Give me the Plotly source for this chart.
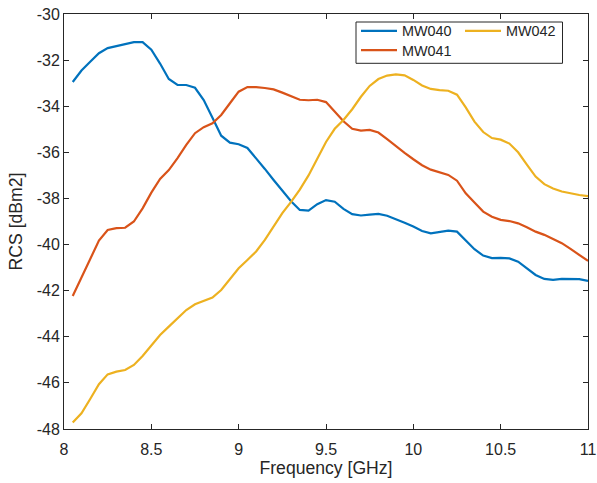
import plotly.graph_objects as go

freq_ghz = [8.05, 8.10, 8.15, 8.20, 8.25, 8.30, 8.35, 8.40, 8.45, 8.50,
            8.55, 8.60, 8.65, 8.70, 8.75, 8.80, 8.85, 8.90, 8.95, 9.00,
            9.05, 9.10, 9.15, 9.20, 9.25, 9.30, 9.35, 9.40, 9.45, 9.50,
            9.55, 9.60, 9.65, 9.70, 9.75, 9.80, 9.85, 9.90, 9.95, 10.00,
            10.05, 10.10, 10.15, 10.20, 10.25, 10.30, 10.35, 10.40, 10.45, 10.50,
            10.55, 10.60, 10.65, 10.70, 10.75, 10.80, 10.85, 10.90, 10.95, 11.00]

mw040 = [-32.95, -32.45, -32.07, -31.70, -31.48, -31.40, -31.32, -31.22, -31.22, -31.55,
         -32.15, -32.82, -33.08, -33.08, -33.20, -33.73, -34.50, -35.28, -35.58, -35.65,
         -35.81, -36.25, -36.72, -37.20, -37.67, -38.12, -38.50, -38.53, -38.25, -38.07,
         -38.14, -38.45, -38.68, -38.74, -38.70, -38.67, -38.75, -38.89, -39.05, -39.22,
         -39.41, -39.51, -39.46, -39.40, -39.44, -39.80, -40.20, -40.48, -40.59, -40.58,
         -40.60, -40.74, -41.03, -41.32, -41.49, -41.53, -41.49, -41.48, -41.50, -41.58]

mw041 = [-42.23, -41.42, -40.61, -39.83, -39.37, -39.29, -39.27, -39.00, -38.43, -37.75,
         -37.15, -36.77, -36.25, -35.68, -35.17, -34.91, -34.74, -34.38, -33.87, -33.37,
         -33.17, -33.17, -33.21, -33.27, -33.41, -33.55, -33.72, -33.74, -33.72, -33.82,
         -34.22, -34.65, -34.98, -35.06, -35.03, -35.14, -35.43, -35.74, -36.02, -36.30,
         -36.56, -36.75, -36.86, -36.98, -37.23, -37.78, -38.18, -38.57, -38.79, -38.93,
         -38.98, -39.08, -39.25, -39.44, -39.58, -39.76, -39.94, -40.19, -40.45, -40.71]

mw042 = [-47.72, -47.32, -46.70, -46.06, -45.63, -45.51, -45.44, -45.22, -44.83, -44.35,
         -43.92, -43.56, -43.20, -42.84, -42.59, -42.45, -42.30, -41.97, -41.50, -41.03,
         -40.67, -40.30, -39.80, -39.22, -38.64, -38.15, -37.62, -37.00, -36.30, -35.55,
         -34.98, -34.60, -34.13, -33.59, -33.12, -32.82, -32.67, -32.62, -32.66, -32.86,
         -33.10, -33.25, -33.30, -33.33, -33.50, -34.05, -34.67, -35.12, -35.38, -35.45,
         -35.62, -36.00, -36.53, -37.05, -37.38, -37.57, -37.70, -37.78, -37.85, -37.90]

series_names = ["MW040", "MW041", "MW042"]
x_tick_vals = [8, 8.5, 9, 9.5, 10, 10.5, 11]
x_tick_text = ["8", "8.5", "9", "9.5", "10", "10.5", "11"]
y_tick_vals = [-48, -46, -44, -42, -40, -38, -36, -34, -32, -30]
y_tick_text = ["-48", "-46", "-44", "-42", "-40", "-38", "-36", "-34", "-32", "-30"]

colors = ["#0072BD", "#D95319", "#EDB120"]
legend_ids = ["legend", "legend2", "legend3"]
FONT = "Liberation Sans, Arial, Helvetica, sans-serif"
AX = "#262626"

# plot-area geometry (pixels) used to place legend entries/box
L, R, T, B = 64, 588, 14, 429
PW, PH = R - L, B - T


def px_x(p):
    return (p - L) / PW


def px_y(p):
    return (B - p) / PH


fig = go.Figure()
for name, ys, c, lg in zip(series_names, [mw040, mw041, mw042], colors, legend_ids):
    fig.add_trace(go.Scatter(x=freq_ghz, y=ys, mode="lines", name=name,
                             legend=lg,
                             line=dict(color=c, width=2.2)))

axis_common = dict(showgrid=False, zeroline=False, showline=True, linecolor=AX,
                   linewidth=1, mirror="allticks", ticks="inside", ticklen=5,
                   tickcolor=AX, tickwidth=1, ticklabeloverflow="allow",
                   tickfont=dict(family=FONT, size=16, color=AX))

fig.update_xaxes(range=[8, 11], tickvals=x_tick_vals, ticktext=x_tick_text,
                 ticklabelstandoff=6,
                 title=dict(text="Frequency [GHz]", font=dict(family=FONT, size=17.6, color=AX),
                            standoff=4),
                 **axis_common)
fig.update_yaxes(range=[-48, -30], tickvals=y_tick_vals, ticktext=y_tick_text,
                 title=dict(text="RCS [dBm2]", font=dict(family=FONT, size=17.6, color=AX),
                            standoff=9),
                 **axis_common)

leg_common = dict(orientation="v", xanchor="left", yanchor="top",
                  bgcolor="rgba(0,0,0,0)", borderwidth=0, itemwidth=36,
                  font=dict(family=FONT, size=14.4, color=AX))

fig.update_layout(
    width=597, height=483,
    margin=dict(l=L, r=597 - R, t=T, b=483 - B, autoexpand=False),
    plot_bgcolor="white", paper_bgcolor="white",
    font=dict(family=FONT, color=AX),
    showlegend=True,
    legend=dict(x=px_x(356), y=px_y(32 - 17), **leg_common),
    legend2=dict(x=px_x(356), y=px_y(51.3 - 17), **leg_common),
    legend3=dict(x=px_x(460), y=px_y(32 - 17), **leg_common),
    shapes=[dict(type="rect", xref="paper", yref="paper",
                 x0=px_x(356), x1=px_x(562.5), y0=px_y(63.3), y1=px_y(22),
                 line=dict(color=AX, width=1), fillcolor="white", layer="above")],
)

fig.write_html("out.html")
